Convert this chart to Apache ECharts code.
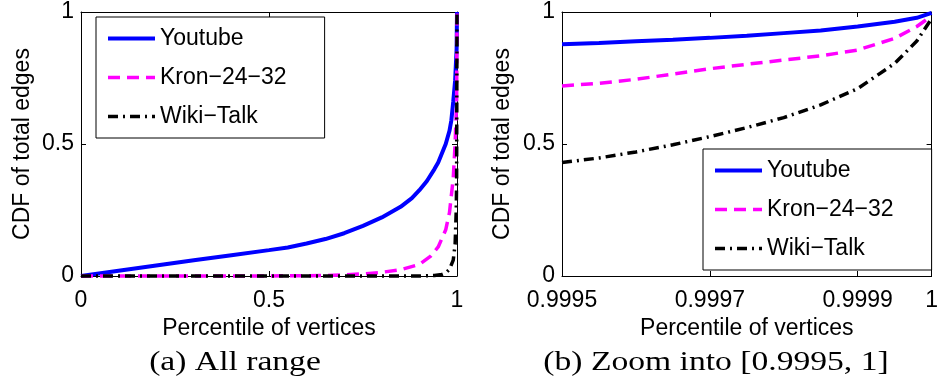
<!DOCTYPE html>
<html><head><meta charset="utf-8">
<script src="https://cdn.jsdelivr.net/npm/echarts@6/dist/echarts.min.js"></script>
<style>html,body{margin:0;padding:0;background:#fff}#c{width:941px;height:383px}</style>
</head><body><div id="c"></div>
<script>
// ---- data ----
const seriesNames = ['Youtube', 'Kron−24−32', 'Wiki−Talk'];
const colors = ['#0000ff', '#ff00ff', '#000000'];

// (a) All range
const ytAllX = [0, 0.1, 0.2, 0.3, 0.4, 0.5, 0.55, 0.6, 0.65, 0.7, 0.75, 0.8, 0.85, 0.88, 0.9, 0.92, 0.94, 0.95, 0.96, 0.97, 0.98, 0.985, 0.99, 0.995, 0.999, 1];
const ytAllY = [0, 0.02, 0.04, 0.06, 0.079, 0.098, 0.108, 0.123, 0.14, 0.162, 0.19, 0.222, 0.262, 0.295, 0.325, 0.36, 0.405, 0.43, 0.465, 0.5, 0.55, 0.59, 0.66, 0.74, 0.86, 1];
const krAllX = [0, 0.5, 0.65, 0.7, 0.75, 0.8, 0.85, 0.9, 0.93, 0.95, 0.97, 0.98, 0.99, 0.995, 0.999, 1];
const krAllY = [0, 0, 0.002, 0.004, 0.008, 0.014, 0.024, 0.044, 0.075, 0.11, 0.175, 0.24, 0.37, 0.5, 0.66, 1];
const wkAllX = [0, 0.9, 0.94, 0.96, 0.97, 0.98, 0.99, 0.995, 0.998, 0.999, 1];
const wkAllY = [0, 0, 0.002, 0.006, 0.012, 0.025, 0.06, 0.12, 0.25, 0.36, 1];

// (b) Zoom into [0.9995, 1]
const zoomX = [0.9995, 0.99955, 0.9996, 0.99965, 0.9997, 0.99975, 0.9998, 0.99985, 0.9999, 0.99995, 0.99998, 1];
const ytZoomY = [0.878, 0.883, 0.889, 0.895, 0.902, 0.91, 0.92, 0.93, 0.945, 0.963, 0.978, 0.997];
const krZoomY = [0.72, 0.73, 0.745, 0.765, 0.785, 0.802, 0.818, 0.834, 0.856, 0.9, 0.945, 0.985];
const wkZoomY = [0.43, 0.447, 0.47, 0.497, 0.528, 0.562, 0.6, 0.648, 0.71, 0.805, 0.89, 0.975];

const allTicksX = [0, 0.5, 1];
const zoomTicksX = [0.9995, 0.9997, 0.9999, 1];
const captions = ['(a) All range', '(b) Zoom into [0.9995, 1]'];
const xName = 'Percentile of vertices';
const yName = 'CDF of total edges';

// ---- chart ----
const SANS = 'Liberation Sans';
const pairs = (xs, ys) => xs.map((x, i) => [x, ys[i]]);
const lineTypes = ['solid', [12, 7], [10, 5, 2, 5]];
const lineWidths = [4, 3.5, 3.5];

function mkSeries(name, idx, data, axisIdx) {
  return {
    type: 'line', name: name, data: data,
    xAxisIndex: axisIdx, yAxisIndex: axisIdx,
    showSymbol: false, symbol: 'none', smooth: false, clip: false,
    lineStyle: { color: colors[idx], width: lineWidths[idx], type: lineTypes[idx] },
    itemStyle: { color: colors[idx] },
    emphasis: { disabled: true },
    animation: false
  };
}

const tick = { show: true, inside: true, length: 5, lineStyle: { color: '#000', width: 1 } };
const axLine = { show: true, onZero: false, lineStyle: { color: '#000', width: 1 } };
const lbl = { color: '#000', fontSize: 23, fontFamily: SANS };

function xAx(grid, pos, min, max, ticks, showLabels) {
  const a = {
    type: 'value', gridIndex: grid, position: pos, min: min, max: max,
    axisLine: axLine, splitLine: { show: false },
    axisTick: Object.assign({}, tick, { customValues: ticks }),
    axisLabel: Object.assign({}, lbl, { show: showLabels, margin: 13, customValues: ticks,
      formatter: v => String(+v.toFixed(4)) })
  };
  if (showLabels) {
    a.name = xName; a.nameLocation = 'middle'; a.nameGap = 40;
    a.nameTextStyle = { color: '#000', fontSize: 23, fontFamily: SANS };
  }
  return a;
}
function yAx(grid, pos, showLabels, gap) {
  const a = {
    type: 'value', gridIndex: grid, position: pos, min: 0, max: 1, interval: 0.5,
    axisLine: axLine, splitLine: { show: false }, axisTick: tick,
    axisLabel: Object.assign({}, lbl, { show: showLabels, margin: 7 })
  };
  if (showLabels) {
    a.name = yName; a.nameLocation = 'middle'; a.nameGap = gap; a.nameRotate = 90;
    a.nameTextStyle = { color: '#000', fontSize: 23, fontFamily: SANS };
  }
  return a;
}

function mkLegend(left, top) {
  return {
    orient: 'vertical', left: left, top: top,
    data: seriesNames.map((n, i) => ({ name: n, lineStyle: { width: lineWidths[i] } })),
    itemWidth: 47, itemHeight: 14, itemGap: 16,
    padding: [10, 38, 10, 10],
    borderColor: '#000', borderWidth: 1, borderRadius: 0, backgroundColor: '#fff',
    textStyle: { color: '#000', fontSize: 23, fontFamily: SANS },
    itemStyle: { opacity: 0, borderWidth: 0 },
    selectedMode: false
  };
}

const option = {
  animation: false,
  backgroundColor: '#fff',
  grid: [
    { left: 81, top: 12, width: 376, height: 264 },
    { left: 562, top: 12, width: 376, height: 264 }
  ],
  xAxis: [
    xAx(0, 'bottom', 0, 1, allTicksX, true),
    xAx(0, 'top', 0, 1, allTicksX, false),
    xAx(1, 'bottom', 0.9995, 1, zoomTicksX, true),
    xAx(1, 'top', 0.9995, 1, zoomTicksX, false)
  ],
  yAxis: [
    yAx(0, 'left', true, 47),
    yAx(0, 'right', false, 0),
    yAx(1, 'left', true, 48),
    yAx(1, 'right', false, 0)
  ],
  legend: [mkLegend(96, 17), mkLegend(703, 149)],
  series: [
    mkSeries(seriesNames[0], 0, pairs(ytAllX, ytAllY), 0),
    mkSeries(seriesNames[1], 1, pairs(krAllX, krAllY), 0),
    mkSeries(seriesNames[2], 2, pairs(wkAllX, wkAllY), 0),
    mkSeries(seriesNames[0], 0, pairs(zoomX, ytZoomY), 2),
    mkSeries(seriesNames[1], 1, pairs(zoomX, krZoomY), 2),
    mkSeries(seriesNames[2], 2, pairs(zoomX, wkZoomY), 2)
  ],
  graphic: [
    { type: 'text', x: 235, y: 363, scaleX: 1.2, silent: true,
      style: { text: captions[0], font: '28px "Liberation Serif"', fill: '#000', align: 'center', verticalAlign: 'middle' } },
    { type: 'text', x: 716, y: 363, scaleX: 1.2, silent: true,
      style: { text: captions[1], font: '28px "Liberation Serif"', fill: '#000', align: 'center', verticalAlign: 'middle' } }
  ]
};

const chart = echarts.init(document.getElementById('c'), null, { renderer: 'canvas' });
chart.setOption(option);
</script>
</body></html>
